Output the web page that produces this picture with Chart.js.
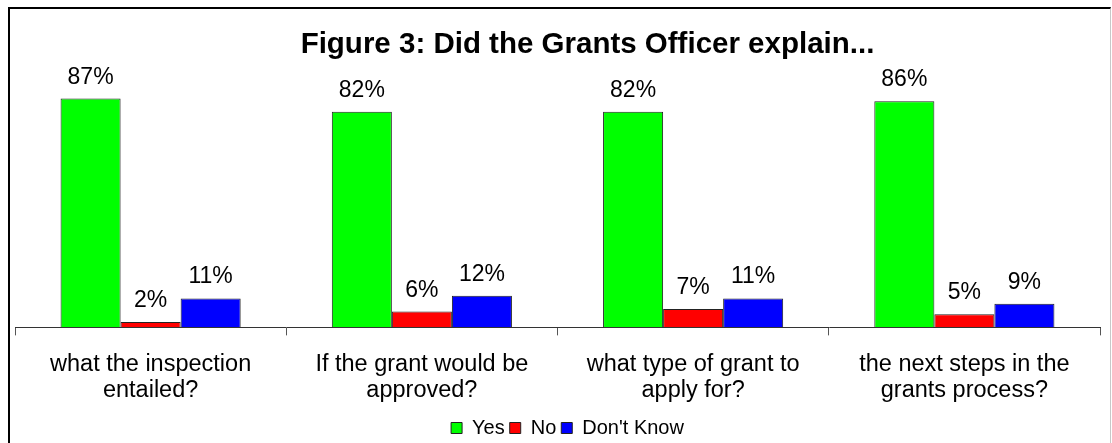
<!DOCTYPE html>
<html lang="en">
<head>
    <meta charset="UTF-8">
    <title>Figure 3: Did the Grants Officer explain...</title>
    <style>
        body {
            margin: 0;
            background: #fff;
            overflow: hidden;
        }

        .frame {
            position: absolute;
            left: 8px;
            top: 7px;
            width: 1100px;
            height: 470px;
            border-top: 2px solid #000;
            border-left: 2px solid #000;
            border-right: 1px solid #c8c8c8;
        }

        .chart-box {
            position: absolute;
            left: 0;
            top: 0;
            width: 1112px;
            height: 448px;
        }
    </style>
</head>
<body>
    <div class="frame"></div>
    <div class="chart-box">
        <canvas id="grantsChart" width="1112" height="448"></canvas>
    </div>
    <script src="https://cdn.jsdelivr.net/npm/chart.js"></script>
    <script>
        const categories = [
            ['what the inspection', 'entailed?'],
            ['If the grant would be', 'approved?'],
            ['what type of grant to', 'apply for?'],
            ['the next steps in the', 'grants process?']
        ];
        const yesValues = [87, 82, 82, 86];
        const noValues = [2, 6, 7, 5];
        const dontKnowValues = [11, 12, 11, 9];

        const FONT = '"Liberation Sans", Arial, sans-serif';
        Chart.defaults.font.family = FONT;
        Chart.defaults.color = '#000';

        // percentage text above every bar
        const valueLabels = {
            id: 'valueLabels',
            afterDatasetsDraw(chart) {
                const ctx = chart.ctx;
                ctx.save();
                ctx.font = '23px ' + FONT;
                ctx.fillStyle = '#000';
                ctx.textAlign = 'center';
                ctx.textBaseline = 'alphabetic';
                chart.data.datasets.forEach((ds, i) => {
                    chart.getDatasetMeta(i).data.forEach((bar, j) => {
                        ctx.fillText(ds.data[j] + '%', bar.x, bar.y - 15);
                    });
                });
                ctx.restore();
            }
        };

        // title and legend sit a little right of centre
        const nudgeBlocks = {
            id: 'nudgeBlocks',
            afterLayout(chart) {
                chart.titleBlock.left += 60;
                chart.legend.left += 20;
            }
        };

        new Chart(document.getElementById('grantsChart'), {
            type: 'bar',
            data: {
                labels: categories,
                datasets: [
                    { label: 'Yes', data: yesValues, backgroundColor: '#00ff00' },
                    { label: 'No', data: noValues, backgroundColor: '#ff0000' },
                    { label: "Don't Know", data: dontKnowValues, backgroundColor: '#0000ff' }
                ]
            },
            options: {
                responsive: false,
                animation: false,
                devicePixelRatio: 1,
                layout: { padding: { left: 15, right: 12, top: 0, bottom: 0 } },
                datasets: {
                    bar: {
                        borderColor: '#222',
                        borderWidth: 1,
                        categoryPercentage: 0.664,
                        barPercentage: 1
                    }
                },
                scales: {
                    x: {
                        offset: true,
                        border: { display: true, color: '#333', width: 1 },
                        grid: {
                            display: true,
                            offset: true,
                            drawOnChartArea: false,
                            drawTicks: true,
                            tickLength: 8,
                            color: '#555'
                        },
                        ticks: {
                            font: { size: 23.5, lineHeight: 1.12 },
                            padding: 16,
                            maxRotation: 0,
                            autoSkip: false
                        },
                        afterFit(scale) { scale.height -= 7; }
                    },
                    y: {
                        display: false,
                        min: 0,
                        max: 100
                    }
                },
                plugins: {
                    title: {
                        display: true,
                        text: 'Figure 3: Did the Grants Officer explain...',
                        font: { size: 29.5, weight: 'bold' },
                        padding: { top: 27, bottom: 2 }
                    },
                    legend: {
                        position: 'bottom',
                        labels: {
                            boxWidth: 11,
                            boxHeight: 11,
                            padding: 5,
                            font: { size: 20 }
                        }
                    },
                    tooltip: { enabled: false }
                }
            },
            plugins: [valueLabels, nudgeBlocks]
        });
    </script>
</body>
</html>
